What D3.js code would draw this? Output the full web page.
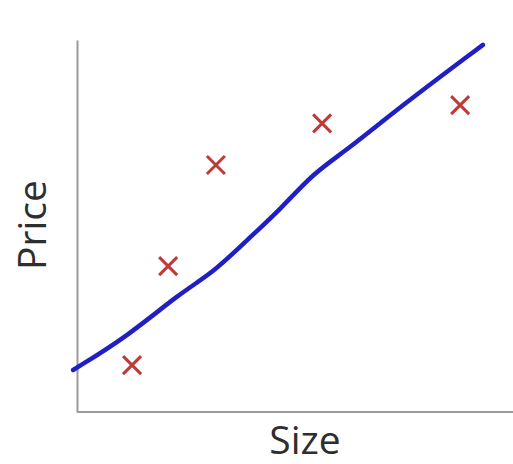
<!DOCTYPE html>
<html><head><meta charset="utf-8">
<script src="https://cdn.jsdelivr.net/npm/d3@7"></script>
<style>body{margin:0;background:#fff}svg{display:block}</style>
</head><body>
<script>
// Data (arbitrary units: size 0-100, price 0-100)
const pointSize  = [12.8, 21.2, 32.3, 57.0, 89.1];
const pointPrice = [12.6, 39.2, 66.4, 77.6, 82.5];
const lineSize  = [-0.9, 11.6, 24.0, 31.6, 39.5, 47.2, 54.9, 62.8, 75.1, 94.4];
const linePrice = [11.3, 20.2, 32.0, 37.4, 46.2, 54.3, 64.2, 70.4, 82.0, 98.7];
const xLabel = "Size";
const yLabel = "Price";

const W = 513, H = 464;
const svg = d3.select("body").append("svg").attr("width", W).attr("height", H);
const x = d3.scaleLinear().domain([0, 100]).range([77, 507]);
const y = d3.scaleLinear().domain([0, 100]).range([412, 40]);

// axes (no ticks)
svg.append("g").attr("transform", `translate(${x(0)},0)`)
  .call(d3.axisLeft(y).tickValues([]).tickSizeOuter(0))
  .call(g => g.select(".domain").attr("stroke", "#9a9a9a").attr("stroke-width", 2));
svg.append("g").attr("transform", `translate(0,${y(0)})`)
  .call(d3.axisBottom(x).tickValues([]).tickSizeOuter(0))
  .call(g => g.select(".domain").attr("stroke", "#9a9a9a").attr("stroke-width", 2).attr("d", `M${x(0)},0H${W}`));

// fit line
const lineData = lineSize.map((s, i) => [s, linePrice[i]]);
svg.append("path").datum(lineData)
  .attr("fill", "none").attr("stroke", "#1f1fc4").attr("stroke-width", 4.5)
  .attr("stroke-linecap", "round").attr("stroke-linejoin", "round")
  .attr("d", d3.line().x(d => x(d[0])).y(d => y(d[1])).curve(d3.curveBasis));

// points as X markers
const pts = pointSize.map((s, i) => [s, pointPrice[i]]);
svg.append("g").selectAll("path").data(pts).join("path")
  .attr("transform", d => `translate(${x(d[0])},${y(d[1])})`)
  .attr("d", "M-9,-9L9,9M9,-9L-9,9")
  .attr("stroke", "#c03838").attr("stroke-width", 3).attr("fill", "none");

// labels
svg.append("text").attr("x", 305).attr("y", 454).attr("text-anchor", "middle")
  .attr("font-family", "Open Sans").attr("font-size", 39).attr("fill", "#2e2e2e").text(xLabel);
svg.append("text").attr("transform", "translate(46,225) rotate(-90)").attr("text-anchor", "middle")
  .attr("font-family", "Open Sans").attr("font-size", 39).attr("fill", "#2e2e2e").text(yLabel);
</script>
</body></html>
